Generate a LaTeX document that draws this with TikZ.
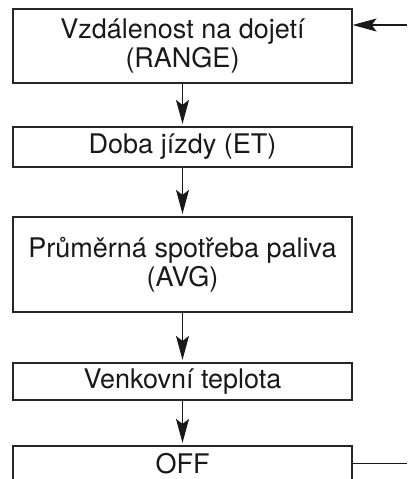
\documentclass[tikz,border=0pt]{standalone}
\usepackage{fontspec}
\setmainfont{TeX Gyre Heros}
\usetikzlibrary{arrows.meta}
\tikzset{
  box/.style={draw=black!85, line width=1.2pt, minimum width=339pt, inner sep=0pt, align=center,
              font=\fontsize{27}{29.5}\selectfont, text=black!90},
  arr/.style={line width=1.1pt, draw=black!90, -{Stealth[length=24pt,width=13pt,inset=5pt]}},
  plainline/.style={line width=1pt, draw=black!90}
}
\begin{document}
\begin{tikzpicture}[x=1pt,y=-1pt]
\useasboundingbox (0,0) rectangle (407,479);
\clip (0,0) rectangle (407,479);
\node[box, minimum height=74pt] (b1) at (182.5,46) {Vzdálenost na dojetí\\(RANGE)};
\node[box, minimum height=40pt] (b2) at (182.5,147) {Doba jízdy (ET)};
\node[box, minimum height=95pt] (b3) at (182.5,264.5) {Průměrná spotřeba paliva\\(AVG)};
\node[box, minimum height=37pt] (b4) at (182.5,381.5) {Venkovní teplota};
\node[box, minimum height=36pt] (b5) at (182.5,464) {OFF};
\coordinate (in) at (407,25);
\coordinate (out) at (407,463);
\draw[arr] (in) -- (in -| b1.east);
\draw[arr, shorten >=2.5pt] (b1.south) -- (b2.north);
\draw[arr, shorten >=2.5pt] (b2.south) -- (b3.north);
\draw[arr, shorten >=2.5pt] (b3.south) -- (b4.north);
\draw[arr, shorten >=2.5pt] (b4.south) -- (b5.north);
\draw[plainline] (out -| b5.east) -- (out);
\end{tikzpicture}
\end{document}
